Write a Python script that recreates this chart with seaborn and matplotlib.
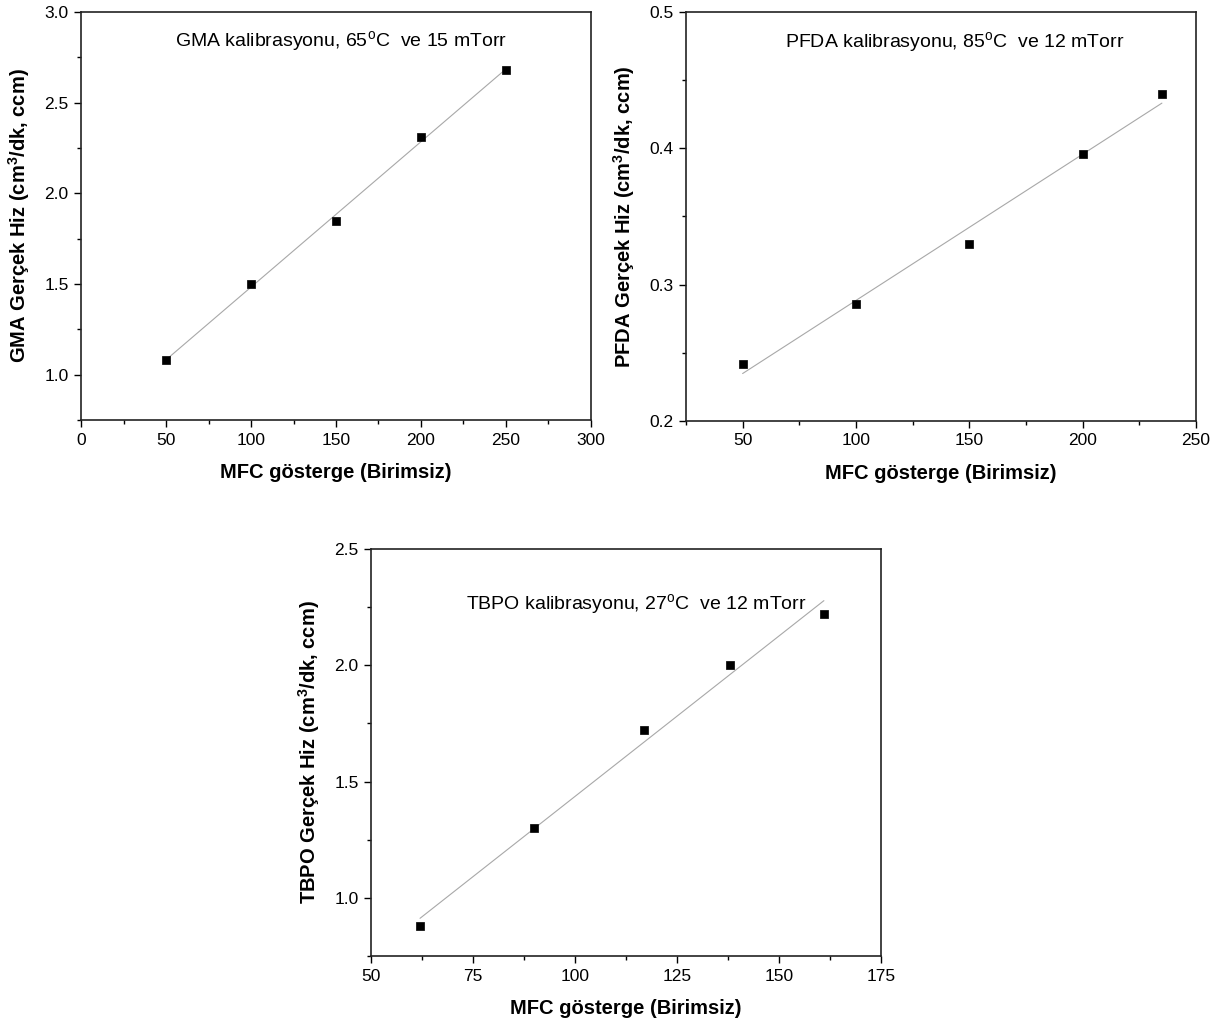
import numpy as np
import pandas as pd
import matplotlib
matplotlib.use("Agg")
import matplotlib.pyplot as plt
import seaborn as sns

# ---- data ----
gma_x = [50, 100, 150, 200, 250]
gma_y = [1.08, 1.50, 1.85, 2.31, 2.68]

pfda_x = [50, 100, 150, 200, 235]
pfda_y = [0.242, 0.286, 0.330, 0.396, 0.440]

tbpo_x = [62, 90, 117, 138, 161]
tbpo_y = [0.88, 1.30, 1.72, 2.00, 2.22]

titles = ["GMA kalibrasyonu, 65$^\\mathrm{o}$C  ve 15 mTorr",
          "PFDA kalibrasyonu, 85$^\\mathrm{o}$C  ve 12 mTorr",
          "TBPO kalibrasyonu, 27$^\\mathrm{o}$C  ve 12 mTorr"]
ylabels = ["GMA Gerçek Hiz (cm$^\\mathbf{3}$/dk, ccm)",
           "PFDA Gerçek Hiz (cm$^\\mathbf{3}$/dk, ccm)",
           "TBPO Gerçek Hiz (cm$^\\mathbf{3}$/dk, ccm)"]
xlabel = "MFC gösterge (Birimsiz)"

sns.set_style("ticks")
plt.rcParams['font.family'] = ['Liberation Sans', 'DejaVu Sans']
plt.rcParams['mathtext.fontset'] = 'custom'
plt.rcParams['mathtext.rm'] = 'Liberation Sans'
plt.rcParams['mathtext.bf'] = 'Liberation Sans:bold'
plt.rcParams['mathtext.it'] = 'Liberation Sans:italic'
for k in ['text.color', 'axes.labelcolor', 'xtick.color', 'ytick.color']:
    plt.rcParams[k] = 'black'

fig = plt.figure(figsize=(12.13, 10.26), dpi=100)

panels = [
    dict(x=gma_x, y=gma_y, rect=[0.0668, 0.5906, 0.4204, 0.3977],
         xlim=(0, 300), ylim=(0.75, 3.0), xt=np.arange(0, 301, 50), xm=25,
         yt=[1.0, 1.5, 2.0, 2.5, 3.0], ym=0.25, yfmt="{:.1f}", tpos=(0.51, 0.93)),
    dict(x=pfda_x, y=pfda_y, rect=[0.5655, 0.5897, 0.4204, 0.3986],
         xlim=(25, 250), ylim=(0.2, 0.5), xt=np.arange(50, 251, 50), xm=25,
         yt=[0.2, 0.3, 0.4, 0.5], ym=0.05, yfmt="{:.1f}", tpos=(0.527, 0.927)),
    dict(x=tbpo_x, y=tbpo_y, rect=[0.3059, 0.0682, 0.4204, 0.3967],
         xlim=(50, 175), ylim=(0.75, 2.5), xt=np.arange(50, 176, 25), xm=12.5,
         yt=[1.0, 1.5, 2.0, 2.5], ym=0.25, yfmt="{:.1f}", tpos=(0.52, 0.865)),
]

for i, p in enumerate(panels):
    ax = fig.add_axes(p["rect"])
    df = pd.DataFrame({"x": p["x"], "y": p["y"]})
    sns.regplot(data=df, x="x", y="y", ax=ax, ci=None, marker="s",
                scatter_kws=dict(s=40, color="black", edgecolors="black",
                                 linewidths=0.5, zorder=3, alpha=1),
                line_kws=dict(color="#a8a8a8", lw=0.8, zorder=2))
    ax.set_xlim(*p["xlim"])
    ax.set_ylim(*p["ylim"])
    ax.set_xticks(p["xt"])
    ax.set_xticklabels([str(int(v)) for v in p["xt"]])
    ax.set_yticks(p["yt"])
    ax.set_yticklabels([p["yfmt"].format(v) for v in p["yt"]])
    ax.xaxis.set_minor_locator(matplotlib.ticker.MultipleLocator(p["xm"]))
    ax.yaxis.set_minor_locator(matplotlib.ticker.MultipleLocator(p["ym"]))
    ax.tick_params(which="major", direction="out", length=5, width=1.0,
                   labelsize=12.5, top=False, right=False, pad=4)
    ax.tick_params(which="minor", direction="out", length=3, width=1.0,
                   top=False, right=False)
    for s in ax.spines.values():
        s.set_visible(True)
        s.set_linewidth(1.2)
        s.set_color("#222222")
    ax.set_xlabel(xlabel, fontsize=14.5, fontweight="bold", labelpad=11)
    ax.set_ylabel(ylabels[i], fontsize=14.5, fontweight="bold", labelpad=9)
    ax.text(p["tpos"][0], p["tpos"][1], titles[i], transform=ax.transAxes,
            ha="center", va="center", fontsize=14)

fig.savefig("out.png", dpi=100, facecolor="white")
